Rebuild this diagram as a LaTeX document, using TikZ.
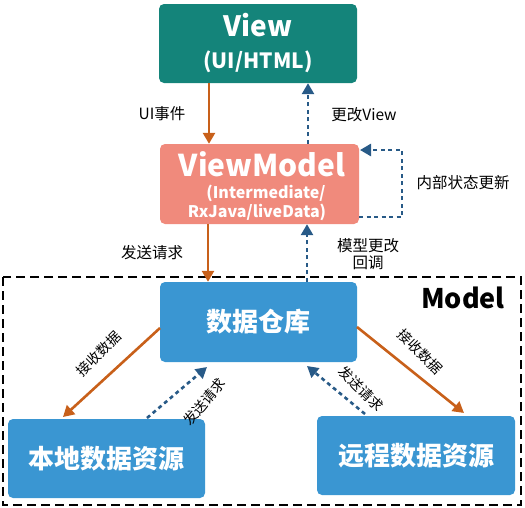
\documentclass[tikz,border=0pt]{standalone}
\usepackage{fontspec}
\setmainfont{Noto Sans CJK SC}
\usetikzlibrary{arrows.meta}
\definecolor{tealc}{HTML}{14847A}
\definecolor{salmon}{HTML}{F08A7C}
\definecolor{boxblue}{HTML}{3A96D2}
\definecolor{orangec}{HTML}{C8601A}
\definecolor{dblue}{HTML}{285A87}
\tikzset{
  box/.style={draw=none, rounded corners=5pt, inner sep=0pt, align=center, text=white, font=\bfseries},
  boxtxt/.style={inner sep=0pt, text=white, font=\bfseries},
  reqarrow/.style={draw=orangec, line width=2.6pt, -{Triangle[length=11pt,width=12pt]}},
  cbarrow/.style={draw=dblue, line width=2.6pt, dash pattern=on 4pt off 3.5pt, -{Triangle[length=11pt,width=12pt]}},
  lbl/.style={font=\fontsize{15.5}{18}\selectfont, text=black, inner sep=1pt, align=center},
  rlbl/.style={font=\fontsize{14}{16}\selectfont, text=black, inner sep=1pt},
}
\begin{document}
\begin{tikzpicture}[x=1pt,y=-1pt]
\useasboundingbox (0,0) rectangle (525,507);
% model dashed frame
\draw[black, line width=1.5pt, dash pattern=on 9pt off 5pt] (3,277) rectangle (521,505);
\node[font=\bfseries\fontsize{27}{30}\selectfont, inner sep=0pt] (modellbl) at (463,298) {Model};
% boxes
\node[box, fill=tealc, minimum width=198pt, minimum height=79pt] (view) at (258,43.5) {};
\node[boxtxt, font=\bfseries\fontsize{28}{30}\selectfont] (viewt1) at (258,25) {View};
\node[boxtxt, font=\bfseries\fontsize{21}{24}\selectfont] (viewt2) at (258,62) {(UI/HTML)};
\node[box, fill=salmon, minimum width=199pt, minimum height=80pt] (vm) at (259.5,184) {};
\node[boxtxt, font=\bfseries\fontsize{30}{32}\selectfont] (vmt1) at (262,164) {ViewModel};
\node[boxtxt, font=\bfseries\fontsize{16}{18}\selectfont] (vmt2) at (266,193) {(Intermediate/};
\node[boxtxt, font=\bfseries\fontsize{16}{18}\selectfont] (vmt3) at (257,212) {RxJava/liveData)};
\node[box, fill=boxblue, minimum width=197pt, minimum height=80pt, font=\bfseries\fontsize{26}{28}\selectfont] (repo) at (258.5,322) {数据仓库};
\node[box, fill=boxblue, minimum width=197pt, minimum height=79pt, font=\bfseries\fontsize{26}{28}\selectfont] (local) at (106.5,458.5) {本地数据资源};
\node[box, fill=boxblue, minimum width=198pt, minimum height=79pt, font=\bfseries\fontsize{26}{28}\selectfont] (remote) at (416,455.5) {远程数据资源};
% coordinates
\coordinate (vmR1) at (359,217);
\coordinate (c1) at (402,217);
\coordinate (c2) at (402,150);
\coordinate (vmR2) at (360,150);
% arrows view <-> vm
\draw[reqarrow] (view.south -| 209,0) -- (vm.north -| 209,0);
\draw[cbarrow] (vm.north -| 308,0) -- (view.south -| 308,0);
\node[lbl] (l1) at (162,114) {UI事件};
\node[lbl] (l2) at (364,115) {更改View};
% self loop
\draw[cbarrow] (vmR1) -- (c1) -- (c2) -- (vmR2);
\node[lbl] (l3) at (463,183) {内部状态更新};
% vm <-> repo
\draw[reqarrow] (vm.south -| 208,0) -- (repo.north -| 208,0);
\draw[cbarrow] (repo.north -| 307,0) -- (vm.south -| 307,0);
\node[lbl] (l4) at (152,253) {发送请求};
\node[lbl, font=\fontsize{15.5}{17}\selectfont] (l5) at (368,254) {模型更改\\回调};
% repo <-> local
\coordinate (rl1) at (160,328);
\coordinate (rl2) at (63,417);
\draw[reqarrow] (rl1) -- (rl2);
\node[rlbl, rotate=45] (l6) at (99,354) {接收数据};
\coordinate (lr1) at (147,418);
\coordinate (lr2) at (207,367);
\draw[cbarrow] (lr1) -- (lr2);
\node[rlbl, rotate=50] (l7) at (204,402) {发送请求};
% repo <-> remote
\coordinate (rr1) at (357,327);
\coordinate (rr2) at (464,413);
\draw[reqarrow] (rr1) -- (rr2);
\node[rlbl, rotate=-45] (l8) at (420,352) {接收数据};
\coordinate (mr1) at (365,414);
\coordinate (mr2) at (307,366);
\draw[cbarrow] (mr1) -- (mr2);
\node[rlbl, rotate=-45] (l9) at (361,389) {发送请求};
\end{tikzpicture}
\end{document}
